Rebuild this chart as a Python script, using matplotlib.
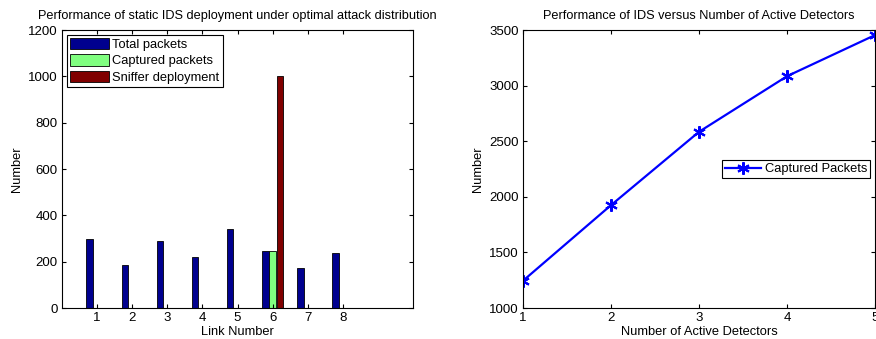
import numpy as np
import matplotlib.pyplot as plt

plt.rcParams['font.family'] = ['Liberation Sans', 'DejaVu Sans']

# Left panel data
links = [1, 2, 3, 4, 5, 6, 7, 8]
total_packets = [300, 185, 288, 222, 343, 248, 172, 237]
captured_packets = [0, 0, 0, 0, 0, 248, 0, 0]
sniffer_deployment = [0, 0, 0, 0, 0, 1000, 0, 0]

# Right panel data
detectors = [1, 2, 3, 4, 5]
captured = [1245, 1925, 2585, 3085, 3455]

fig = plt.figure(figsize=(8.76, 3.39), dpi=100)

ax1 = fig.add_axes([0.0708, 0.0914, 0.4007, 0.820])
x = np.array(links)
w = 0.19
ax1.bar(x - 0.21, total_packets, w, color='#00008f', edgecolor='black', linewidth=0.6,
        label='Total packets')
ax1.bar(x, captured_packets, w, color='#80ff80', edgecolor='black', linewidth=0.6,
        label='Captured packets')
ax1.bar(x + 0.21, sniffer_deployment, w, color='#800000', edgecolor='black', linewidth=0.6,
        label='Sniffer deployment')
ax1.set_xlim(0, 10)
ax1.set_ylim(0, 1200)
ax1.set_xticks(links)
ax1.set_yticks(range(0, 1201, 200))
ax1.set_title('Performance of static IDS deployment under optimal attack distribution',
              fontsize=9.2, pad=8)
ax1.set_xlabel('Link Number', fontsize=9.3, labelpad=1)
ax1.set_ylabel('Number', fontsize=9.3)
leg = ax1.legend(loc='upper left', fontsize=9.3, fancybox=False, framealpha=1,
                 edgecolor='black', handlelength=3.0, handleheight=1.0,
                 borderpad=0.25, labelspacing=0.25, handletextpad=0.3,
                 borderaxespad=0.35)
leg.get_frame().set_linewidth(0.8)

ax2 = fig.add_axes([0.597, 0.0914, 0.402, 0.820])
ax2.plot(detectors, captured, color='blue', linewidth=1.6, marker=(6, 2, 0),
         markersize=9, markeredgewidth=1.5, label='Captured Packets')
ax2.set_xlim(1, 5)
ax2.set_ylim(1000, 3500)
ax2.set_xticks(detectors)
ax2.set_yticks(range(1000, 3501, 500))
ax2.set_title('Performance of IDS versus Number of Active Detectors', fontsize=9.2, pad=8)
ax2.set_xlabel('Number of Active Detectors', fontsize=9.3, labelpad=1)
ax2.set_ylabel('Number', fontsize=9.3)
leg2 = ax2.legend(loc='center right', bbox_to_anchor=(1.005, 0.5), fontsize=9.3,
                  fancybox=False, framealpha=1, edgecolor='black', handlelength=2.8,
                  borderpad=0.25, handletextpad=0.3)
leg2.get_frame().set_linewidth(0.8)

for ax in (ax1, ax2):
    ax.tick_params(direction='in', top=True, right=True, labelsize=9.5, length=3, pad=3)
    for s in ax.spines.values():
        s.set_linewidth(0.8)

fig.savefig('out.png', dpi=100)
